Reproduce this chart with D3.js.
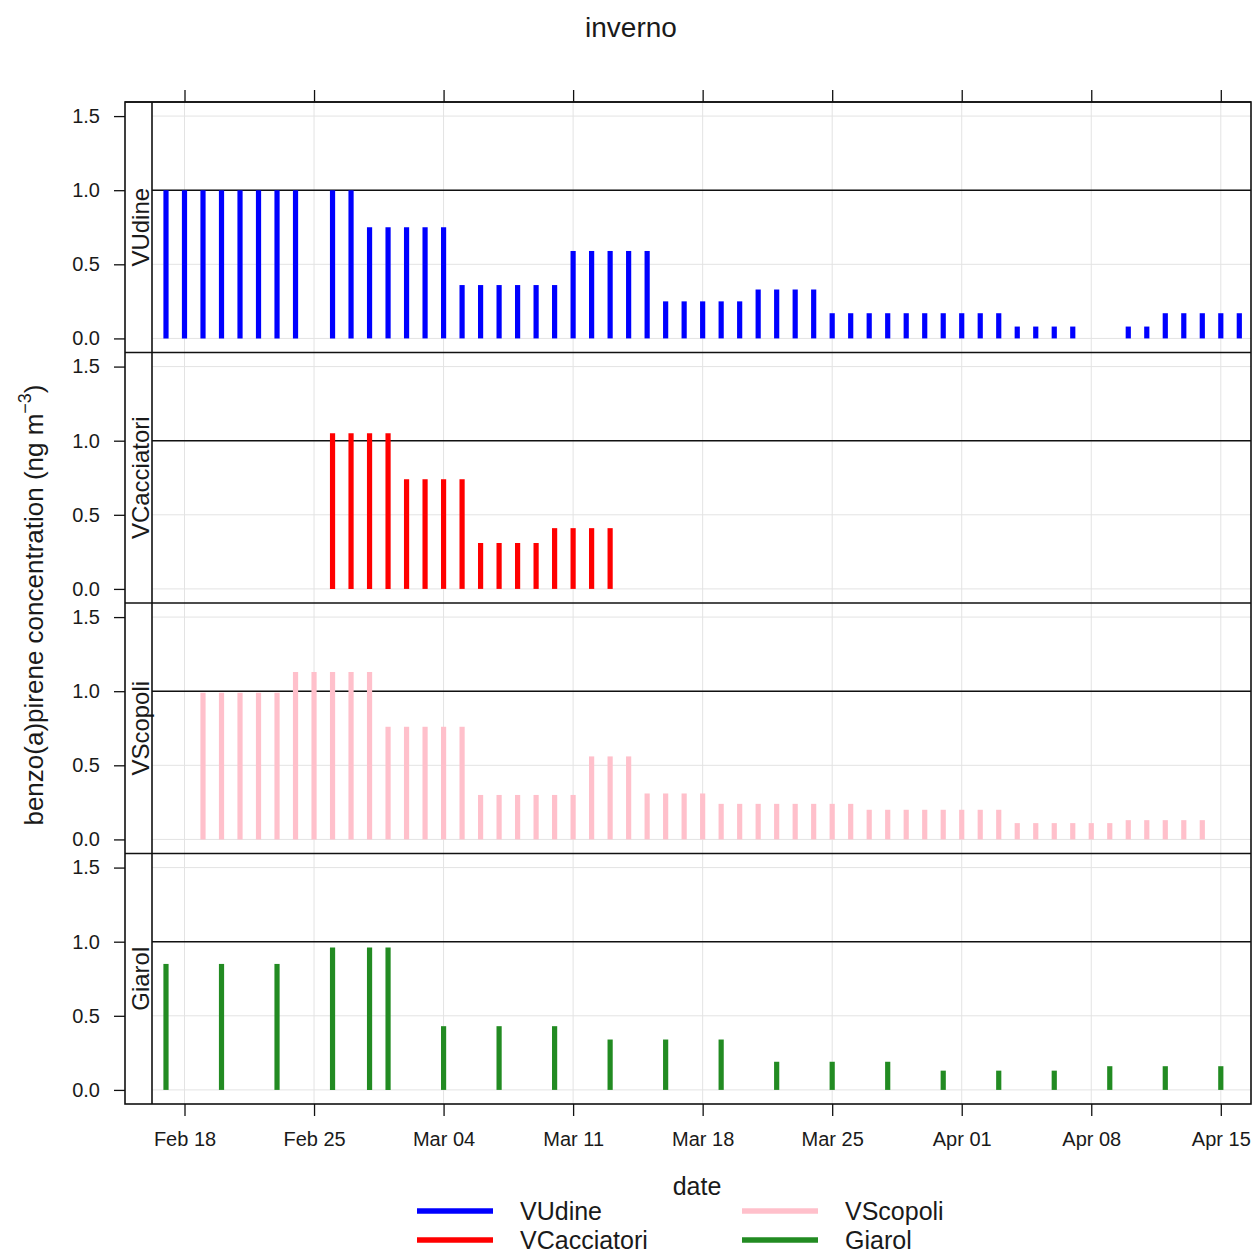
<!DOCTYPE html>
<html lang="it">
<head>
<meta charset="UTF-8">
<title>inverno</title>
<script src="https://d3js.org/d3.v7.min.js"></script>
<style>
  body { margin: 0; background: #fff; }
  text { font-family: "Liberation Sans", Arial, sans-serif; fill: #1a1a1a; }
</style>
</head>
<body>
<script>
// stations (panels, top to bottom) and their colours
var stations = ["VUdine", "VCacciatori", "VScopoli", "Giarol"];
var colors = ["#0000ff", "#ff0000", "#ffc0cb", "#228b22"];
var yTicks = [0, 0.5, 1.0, 1.5];
var dateTicks = ["2013-02-18", "2013-02-25", "2013-03-04", "2013-03-11", "2013-03-18",
                 "2013-03-25", "2013-04-01", "2013-04-08", "2013-04-15"];

// VUdine
var udineDates = ["2013-02-17","2013-02-18","2013-02-19","2013-02-20","2013-02-21","2013-02-22","2013-02-23","2013-02-24",
  "2013-02-26","2013-02-27","2013-02-28","2013-03-01","2013-03-02","2013-03-03","2013-03-04",
  "2013-03-05","2013-03-06","2013-03-07","2013-03-08","2013-03-09","2013-03-10",
  "2013-03-11","2013-03-12","2013-03-13","2013-03-14","2013-03-15",
  "2013-03-16","2013-03-17","2013-03-18","2013-03-19","2013-03-20",
  "2013-03-21","2013-03-22","2013-03-23","2013-03-24",
  "2013-03-25","2013-03-26","2013-03-27","2013-03-28","2013-03-29","2013-03-30","2013-03-31","2013-04-01","2013-04-02","2013-04-03",
  "2013-04-04","2013-04-05","2013-04-06","2013-04-07",
  "2013-04-10","2013-04-11",
  "2013-04-12","2013-04-13","2013-04-14","2013-04-15","2013-04-16"];
var udineValues = [1.00,1.00,1.00,1.00,1.00,1.00,1.00,1.00,
  1.00,1.00,0.75,0.75,0.75,0.75,0.75,
  0.36,0.36,0.36,0.36,0.36,0.36,
  0.59,0.59,0.59,0.59,0.59,
  0.25,0.25,0.25,0.25,0.25,
  0.33,0.33,0.33,0.33,
  0.17,0.17,0.17,0.17,0.17,0.17,0.17,0.17,0.17,0.17,
  0.08,0.08,0.08,0.08,
  0.08,0.08,
  0.17,0.17,0.17,0.17,0.17];

// VCacciatori
var cacciatoriDates = ["2013-02-26","2013-02-27","2013-02-28","2013-03-01",
  "2013-03-02","2013-03-03","2013-03-04","2013-03-05",
  "2013-03-06","2013-03-07","2013-03-08","2013-03-09",
  "2013-03-10","2013-03-11","2013-03-12","2013-03-13"];
var cacciatoriValues = [1.05,1.05,1.05,1.05,
  0.74,0.74,0.74,0.74,
  0.31,0.31,0.31,0.31,
  0.41,0.41,0.41,0.41];

// VScopoli
var scopoliDates = ["2013-02-19","2013-02-20","2013-02-21","2013-02-22","2013-02-23",
  "2013-02-24","2013-02-25","2013-02-26","2013-02-27","2013-02-28",
  "2013-03-01","2013-03-02","2013-03-03","2013-03-04","2013-03-05",
  "2013-03-06","2013-03-07","2013-03-08","2013-03-09","2013-03-10","2013-03-11",
  "2013-03-12","2013-03-13","2013-03-14",
  "2013-03-15","2013-03-16","2013-03-17","2013-03-18",
  "2013-03-19","2013-03-20","2013-03-21","2013-03-22","2013-03-23","2013-03-24","2013-03-25","2013-03-26",
  "2013-03-27","2013-03-28","2013-03-29","2013-03-30","2013-03-31","2013-04-01","2013-04-02","2013-04-03",
  "2013-04-04","2013-04-05","2013-04-06","2013-04-07","2013-04-08","2013-04-09",
  "2013-04-10","2013-04-11","2013-04-12","2013-04-13","2013-04-14"];
var scopoliValues = [0.99,0.99,0.99,0.99,0.99,
  1.13,1.13,1.13,1.13,1.13,
  0.76,0.76,0.76,0.76,0.76,
  0.30,0.30,0.30,0.30,0.30,0.30,
  0.56,0.56,0.56,
  0.31,0.31,0.31,0.31,
  0.24,0.24,0.24,0.24,0.24,0.24,0.24,0.24,
  0.20,0.20,0.20,0.20,0.20,0.20,0.20,0.20,
  0.11,0.11,0.11,0.11,0.11,0.11,
  0.13,0.13,0.13,0.13,0.13];

// Giarol
var giarolDates = ["2013-02-17","2013-02-20","2013-02-23","2013-02-26","2013-02-28","2013-03-01",
  "2013-03-04","2013-03-07","2013-03-10","2013-03-13","2013-03-16","2013-03-19",
  "2013-03-22","2013-03-25","2013-03-28","2013-03-31","2013-04-03","2013-04-06",
  "2013-04-09","2013-04-12","2013-04-15"];
var giarolValues = [0.85,0.85,0.85,0.96,0.96,0.96,
  0.43,0.43,0.43,0.34,0.34,0.34,
  0.19,0.19,0.19,0.13,0.13,0.13,
  0.16,0.16,0.16];

var allDates = [udineDates, cacciatoriDates, scopoliDates, giarolDates];
var allValues = [udineValues, cacciatoriValues, scopoliValues, giarolValues];

var width = 1253, height = 1256;
var stripLeft = 125, panelLeft = 152, panelRight = 1251;
var plotTop = 102, plotBottom = 1104;
var panelH = (plotBottom - plotTop) / stations.length;

var parse = d3.utcParse("%Y-%m-%d");

var svg = d3.select("body").append("svg")
  .attr("width", width).attr("height", height);

// x scale: tick dates anchored to their pixel positions, panel clipped at the frame
var x = d3.scaleUtc()
  .domain([parse(dateTicks[0]), parse(dateTicks[dateTicks.length - 1])])
  .range([184.5, 1220.8]);
var tickDates = dateTicks.map(parse);

svg.append("defs").append("clipPath").attr("id", "clip")
  .append("rect").attr("x", panelLeft).attr("y", plotTop)
  .attr("width", panelRight - panelLeft).attr("height", plotBottom - plotTop);

stations.forEach(function (name, i) {
  var py0 = plotTop + i * panelH, py1 = py0 + panelH;
  var y = d3.scaleLinear().domain([-0.095, 1.595]).range([py1, py0]);
  var g = svg.append("g");
  var pg = g.append("g").attr("clip-path", "url(#clip)");

  // grid
  pg.selectAll(".vg").data(tickDates).enter().append("line")
    .attr("x1", function (d) { return x(d); }).attr("x2", function (d) { return x(d); })
    .attr("y1", py0).attr("y2", py1)
    .attr("stroke", "#e3e3e3").attr("stroke-width", 1);
  pg.selectAll(".hg").data(yTicks).enter().append("line")
    .attr("x1", panelLeft).attr("x2", panelRight)
    .attr("y1", function (d) { return y(d); }).attr("y2", function (d) { return y(d); })
    .attr("stroke", "#e3e3e3").attr("stroke-width", 1);

  // reference line at 1
  pg.append("line")
    .attr("x1", panelLeft).attr("x2", panelRight)
    .attr("y1", y(1)).attr("y2", y(1))
    .attr("stroke", "#111").attr("stroke-width", 1.5);

  // bars (type "h")
  var data = allDates[i].map(function (d, k) { return { date: parse(d), value: allValues[i][k] }; });
  pg.selectAll(".bar").data(data).enter().append("line")
    .attr("x1", function (d) { return x(d.date); }).attr("x2", function (d) { return x(d.date); })
    .attr("y1", y(0)).attr("y2", function (d) { return y(d.value); })
    .attr("stroke", colors[i]).attr("stroke-width", 5.2);

  // y axis
  var ax = g.append("g").attr("transform", "translate(" + stripLeft + ",0)")
    .call(d3.axisLeft(y).tickValues(yTicks).tickFormat(d3.format(".1f")).tickSize(11).tickPadding(14));
  ax.select(".domain").remove();
  ax.selectAll(".tick line").attr("stroke", "#111").attr("stroke-width", 1.3);
  ax.selectAll(".tick text").attr("font-size", 20).attr("font-family", null).attr("fill", "#222");

  // strip on the left
  g.append("text")
    .attr("transform", "translate(149," + ((py0 + py1) / 2) + ") rotate(-90)")
    .attr("text-anchor", "middle")
    .attr("font-size", 24)
    .text(name);

  // panel separator
  g.append("line").attr("x1", stripLeft).attr("x2", panelRight)
    .attr("y1", py0).attr("y2", py0)
    .attr("stroke", "#111").attr("stroke-width", 1.6);
});

// frame
svg.append("rect").attr("x", stripLeft).attr("y", plotTop)
  .attr("width", panelRight - stripLeft).attr("height", plotBottom - plotTop)
  .attr("fill", "none").attr("stroke", "#111").attr("stroke-width", 1.6);
svg.append("line").attr("x1", panelLeft).attr("x2", panelLeft)
  .attr("y1", plotTop).attr("y2", plotBottom)
  .attr("stroke", "#111").attr("stroke-width", 1.6);

// x axes
var bx = svg.append("g").attr("transform", "translate(0," + plotBottom + ")")
  .call(d3.axisBottom(x).tickValues(tickDates).tickFormat(d3.utcFormat("%b %d")).tickSize(12).tickPadding(16));
bx.select(".domain").remove();
bx.selectAll(".tick line").attr("stroke", "#111").attr("stroke-width", 1.3);
bx.selectAll(".tick text").attr("font-size", 20).attr("font-family", null).attr("fill", "#222");

var tx = svg.append("g").attr("transform", "translate(0," + plotTop + ")")
  .call(d3.axisTop(x).tickValues(tickDates).tickFormat("").tickSize(12));
tx.select(".domain").remove();
tx.selectAll(".tick line").attr("stroke", "#111").attr("stroke-width", 1.3);

// titles
svg.append("text").attr("x", 631).attr("y", 37)
  .attr("text-anchor", "middle").attr("font-size", 28).text("inverno");

svg.append("text").attr("x", 697).attr("y", 1195)
  .attr("text-anchor", "middle").attr("font-size", 25).text("date");

var yl = svg.append("text")
  .attr("transform", "translate(43,605) rotate(-90)")
  .attr("text-anchor", "middle").attr("font-size", 26);
yl.append("tspan").text("benzo(a)pirene concentration (ng m");
yl.append("tspan").attr("font-size", 18).attr("dy", -12).text("\u22123");
yl.append("tspan").attr("dy", 12).text(")");

// legend
var legX = [417, 742];
var legY = [1211, 1240];
stations.forEach(function (name, i) {
  var col = Math.floor(i / 2), row = i % 2;
  svg.append("line")
    .attr("x1", legX[col]).attr("x2", legX[col] + 76)
    .attr("y1", legY[row]).attr("y2", legY[row])
    .attr("stroke", colors[i]).attr("stroke-width", 5.5);
  svg.append("text")
    .attr("x", legX[col] + 103).attr("y", legY[row] + 9)
    .attr("font-size", 25).text(name);
});
</script>
</body>
</html>
